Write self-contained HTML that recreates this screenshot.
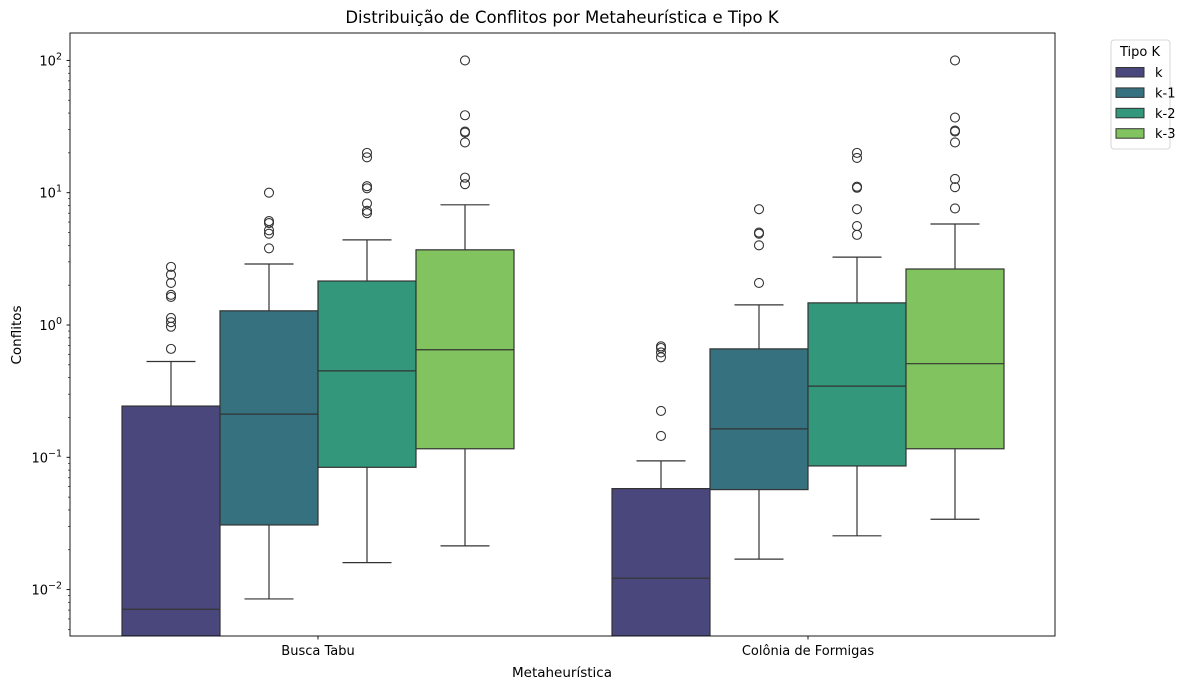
<!DOCTYPE html>
<html><head><meta charset="utf-8">
<style>
html,body{margin:0;padding:0;background:#fff;overflow:hidden;width:1192px;height:690px;}
svg{display:block;}
svg text{font-family:"DejaVu Sans","Liberation Sans",sans-serif;fill:#000;}
</style></head>
<body>
<svg id="chart" width="1192" height="690" xmlns="http://www.w3.org/2000/svg">
<rect x="0" y="0" width="1192" height="690" fill="#fff"/>
<text x="562" y="23" font-size="16.5" text-anchor="middle">Distribuição de Conflitos por Metaheurística e Tipo K</text>
<g id="plot"></g>
<rect x="70" y="33" width="985" height="603" fill="none" stroke="#000" stroke-width="0.9"/>
<text x="562" y="677" font-size="13.5" text-anchor="middle">Metaheurística</text>
<text x="21" y="335" font-size="13.5" text-anchor="middle" transform="rotate(-90 21 335)">Conflitos</text>
<g>
<rect x="1111" y="40" width="59" height="109" rx="3" fill="#fff" stroke="#ccc" stroke-width="0.8"/>
<text x="1140" y="56" font-size="13" text-anchor="middle">Tipo K</text>
<g id="legend-entries"></g>
</g>
</svg>
<script>
const groups = ["Busca Tabu", "Colônia de Formigas"];
const kinds = ["k", "k-1", "k-2", "k-3"];
const colors = ["#4a477d", "#35717f", "#33977b", "#80c35f"];
// [lowWhisker, q1, median, q3, highWhisker] per group per kind
const statsBT = [[0.0004,0.001,0.0071,0.244,0.53],[0.0085,0.0308,0.212,1.28,2.89],[0.016,0.084,0.45,2.15,4.4],[0.0214,0.116,0.65,3.7,8.1]];
const statsCF = [[0.0004,0.001,0.0122,0.058,0.094],[0.017,0.057,0.164,0.66,1.42],[0.0255,0.086,0.345,1.47,3.26],[0.034,0.116,0.51,2.65,5.8]];
const outBT = [[2.75,2.4,2.08,1.69,1.63,1.13,1.05,0.97,0.66],[10,6.1,5.9,5.2,4.9,3.8],[20,18.5,11.2,10.8,8.3,7.3,7.0],[100,38.5,29,28.5,24,13,11.6]];
const outCF = [[0.69,0.67,0.62,0.57,0.224,0.145],[7.5,5.0,4.9,4.0,2.08],[20,18.3,11.1,10.9,7.5,5.6,4.8],[100,37,29.5,29,24,12.7,11,7.6]];
const yTickVals = [0.01, 0.1, 1, 10, 100];
const yTickExp = ["−2", "−1", "0", "1", "2"];

const NS = "http://www.w3.org/2000/svg";
const plot = document.getElementById("plot");
const X0=70, X1=1055, Y0=33, Y1=636;
function y(v){ return 325 - 132.3*Math.log10(v); }
function gx(gi){ return 318 + gi*490; }
const bw = 98;
function mk(tag, attrs, parent){ const e=document.createElementNS(NS,tag); for(const k in attrs) e.setAttribute(k,attrs[k]); (parent||plot).appendChild(e); return e; }

const defs = mk("defs",{});
const cp = mk("clipPath",{id:"clip"},defs);
mk("rect",{x:X0,y:Y0,width:X1-X0,height:Y1-Y0},cp);
const g = mk("g",{"clip-path":"url(#clip)"});

for(let d=-3; d<=2; d++){
  for(let m=1; m<10; m++){
    const v = m*Math.pow(10,d);
    const yy = y(v);
    if(yy<Y0||yy>Y1) continue;
    const t = mk("line",{x1:X0-(m===1?3.5:2),x2:X0,y1:yy,y2:yy,stroke:"#000","stroke-width":m===1?0.9:0.6});
    
    
  }
}
yTickVals.forEach((v,i)=>{
  const t = mk("text",{x:X0-8,y:y(v)+5,"font-size":"13","text-anchor":"end"});
  
  
  t.innerHTML = '10<tspan dy="-6" font-size="9.5">'+yTickExp[i]+'</tspan>';
});
groups.forEach((name,gi)=>{
  const xx=gx(gi);
  const t = mk("line",{x1:xx,x2:xx,y1:Y1,y2:Y1+3.5,stroke:"#000","stroke-width":0.9});
  
  
  const l = mk("text",{x:xx,y:Y1+19,"font-size":"13","text-anchor":"middle"});
  
  
  l.textContent=name;
});

const all=[statsBT,statsCF], outs=[outBT,outCF];
all.forEach((st,gi)=>{
  st.forEach((s,ki)=>{
    const cx = gx(gi) - 2*bw + bw*ki + bw/2;
    const l = cx - bw/2;
    const grp = mk("g",{},g);
    
    
    const st2={stroke:"#333","stroke-width":1.2};
    mk("line",Object.assign({x1:cx,x2:cx,y1:y(s[0]),y2:y(s[1])},st2),grp);
    mk("line",Object.assign({x1:cx,x2:cx,y1:y(s[3]),y2:y(s[4])},st2),grp);
    mk("line",Object.assign({x1:cx-bw/4,x2:cx+bw/4,y1:y(s[0]),y2:y(s[0])},st2),grp);
    mk("line",Object.assign({x1:cx-bw/4,x2:cx+bw/4,y1:y(s[4]),y2:y(s[4])},st2),grp);
    mk("rect",Object.assign({x:l,y:y(s[3]),width:bw,height:y(s[1])-y(s[3]),fill:colors[ki]},st2),grp);
    mk("line",Object.assign({x1:l,x2:l+bw,y1:y(s[2]),y2:y(s[2])},st2),grp);
    outs[gi][ki].forEach(v=>{
      const c = mk("circle",{cx:cx,cy:y(v),r:4.5,fill:"none",stroke:"#333","stroke-width":1.1},grp);
      
      
    });
  });
});

const le = document.getElementById("legend-entries");
kinds.forEach((k,i)=>{
  const yy = 72 + i*20.4;
  const r = mk("rect",{x:1116,y:yy-4.5,width:28,height:9.5,fill:colors[i],stroke:"#333","stroke-width":1},le);
  
  
  const t = mk("text",{x:1155,y:yy+5,"font-size":"13"},le);
  
  
  t.textContent=k;
});
</script>
</body></html>
